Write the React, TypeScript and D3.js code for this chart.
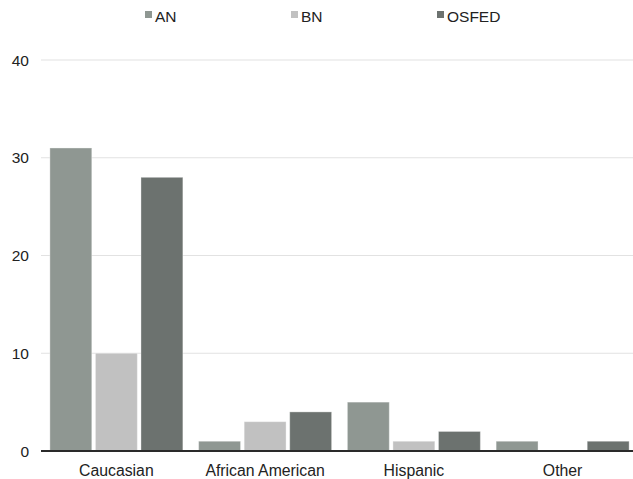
import React from "react";
import * as d3 from "d3";

const categories = ["Caucasian", "African American", "Hispanic", "Other"];
const seriesNames = ["AN", "BN", "OSFED"];
const anValues = [31, 1, 5, 1];
const bnValues = [10, 3, 1, 0];
const osfedValues = [28, 4, 2, 1];
const yTicks = [0, 10, 20, 30, 40];

const seriesColors = ["#8f9792", "#c1c1c1", "#6c726f"];
const FONT = "'Liberation Sans', Arial, Helvetica, sans-serif";

export default function App() {
  const width = 633;
  const height = 479;
  const plotLeft = 41;
  const plotRight = 633;

  const series = [anValues, bnValues, osfedValues];

  const y = d3.scaleLinear().domain([0, 40]).range([451, 60]);

  const x0 = d3
    .scaleBand<string>()
    .domain(categories)
    .range([42, 637])
    .paddingInner(0.106)
    .paddingOuter(0.053);

  const x1 = d3
    .scaleBand<string>()
    .domain(seriesNames)
    .range([0, x0.bandwidth()])
    .paddingInner(0.08)
    .paddingOuter(0);

  const legendX = d3.scalePoint<string>().domain(seriesNames).range([145, 437]);

  return (
    <svg
      width={width}
      height={height}
      style={{ position: "absolute", left: 0, top: 0, background: "#fff" }}
      fontFamily={FONT}
    >
      {/* gridlines */}
      {yTicks
        .filter((t) => t !== 0)
        .map((t) => (
          <line
            key={t}
            x1={plotLeft}
            x2={plotRight}
            y1={y(t)}
            y2={y(t)}
            stroke="#e2e2e2"
            strokeWidth={1.2}
          />
        ))}

      {/* y tick labels */}
      {yTicks.map((t) => (
        <text
          key={t}
          x={29}
          y={y(t)}
          dy="0.36em"
          textAnchor="end"
          fontSize={15.5}
          fill="#222"
        >
          {t}
        </text>
      ))}

      {/* bars */}
      {categories.map((c, ci) => (
        <g key={c} transform={`translate(${x0(c)},0)`}>
          {seriesNames.map((s, si) => {
            const v = series[si][ci];
            if (v <= 0) return null;
            return (
              <rect
                key={s}
                x={x1(s)}
                y={y(v)}
                width={x1.bandwidth()}
                height={y(0) - y(v)}
                fill={seriesColors[si]}
                stroke="#ffffff"
                strokeOpacity={0.35}
                strokeWidth={1}
              />
            );
          })}
        </g>
      ))}

      {/* zero axis */}
      <line
        x1={plotLeft}
        x2={plotRight}
        y1={y(0)}
        y2={y(0)}
        stroke="#2a2a2a"
        strokeWidth={2}
      />

      {/* category labels */}
      {categories.map((c) => (
        <text
          key={c}
          x={(x0(c) as number) + x0.bandwidth() / 2}
          y={476}
          textAnchor="middle"
          fontSize={15.8}
          fill="#222"
        >
          {c}
        </text>
      ))}

      {/* legend */}
      {seriesNames.map((s, si) => (
        <g key={s} transform={`translate(${legendX(s)},0)`}>
          <rect x={0} y={11} width={7} height={7} fill={seriesColors[si]} />
          <text x={10} y={22} fontSize={15.5} fill="#222">
            {s}
          </text>
        </g>
      ))}
    </svg>
  );
}
